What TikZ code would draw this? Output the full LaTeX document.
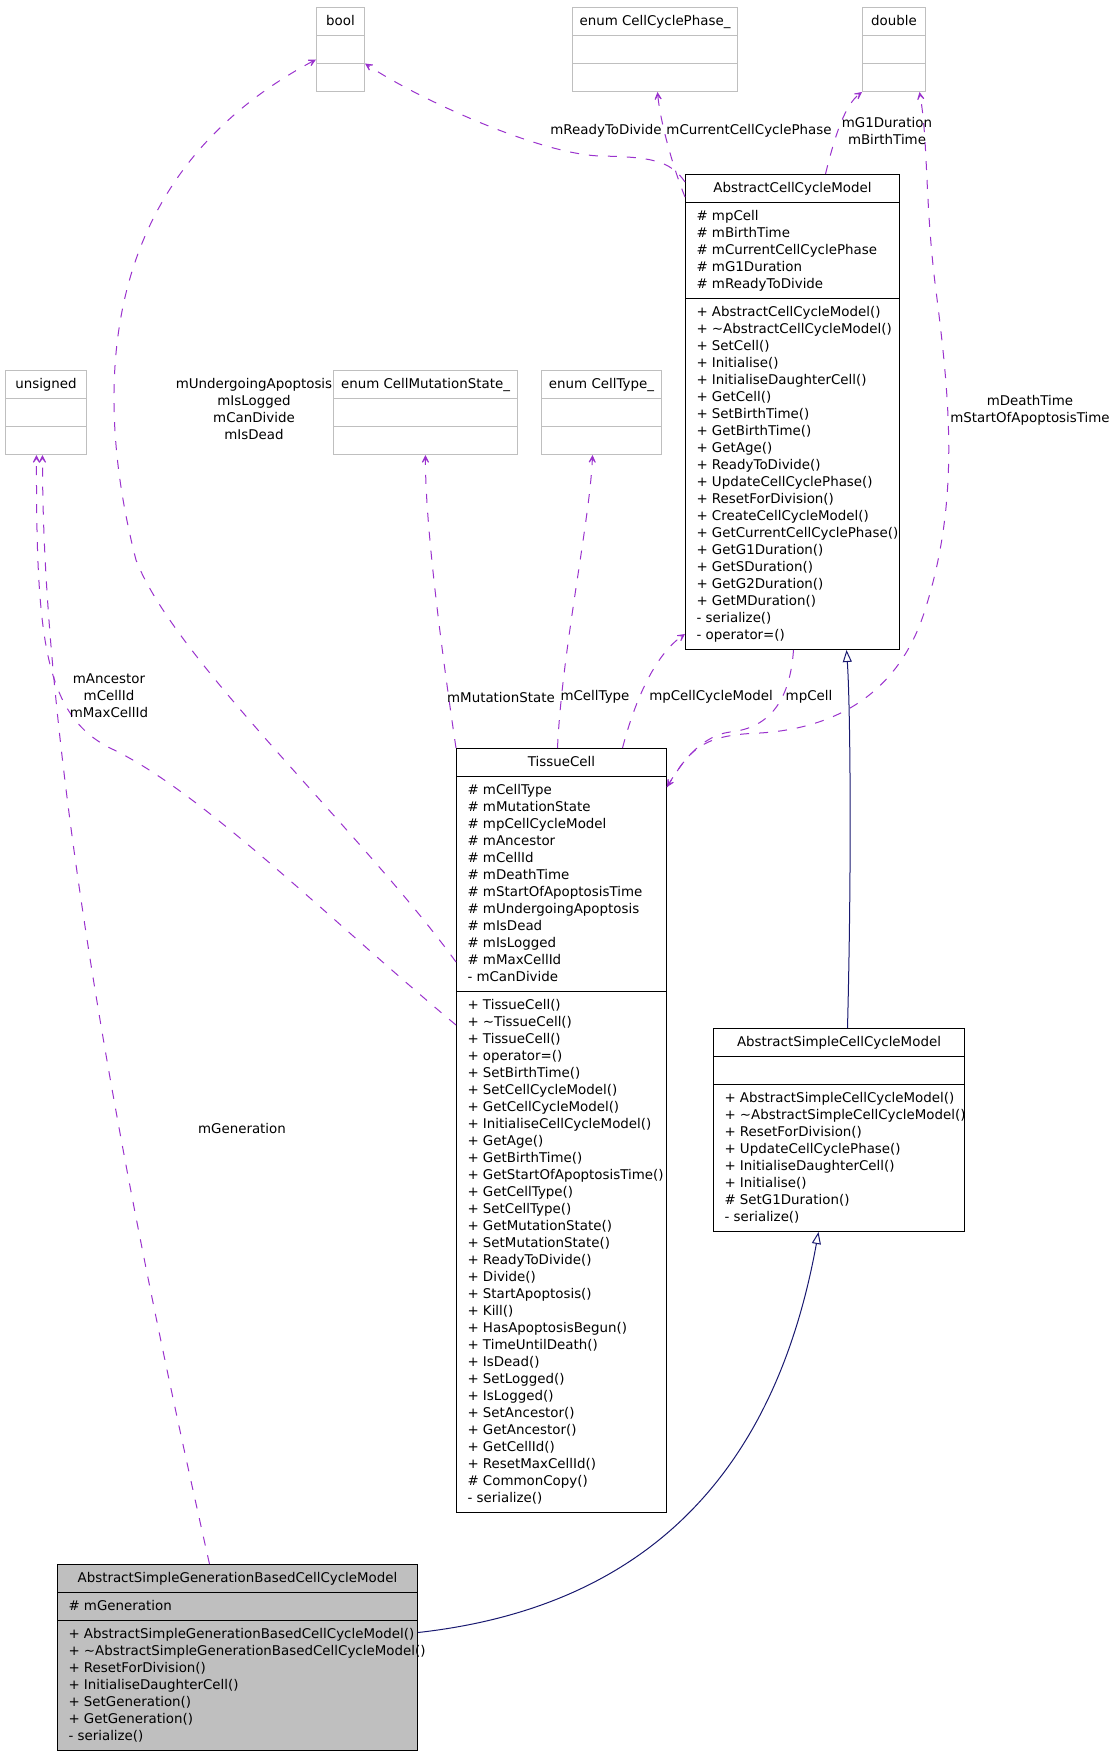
\documentclass[tikz,border=0pt]{standalone}
\usepackage{fontspec}
\setmainfont{DejaVu Sans}
\usetikzlibrary{shapes.multipart,arrows.meta}

\definecolor{usagepurple}{HTML}{9A32CD}
\definecolor{inheritnavy}{HTML}{191970}
\definecolor{typegray}{HTML}{BFBFBF}

% rows of a class box
\newcommand{\ctitle}[2]{\makebox[#1][c]{\rule[-9.5pt]{0pt}{27pt}#2}}
\newcommand{\cempty}[1]{\makebox[#1]{\rule[-9.5pt]{0pt}{27pt}}}
\newcommand{\clines}[2]{\makebox[#1][l]{\hspace{11pt}\parbox[c]{420pt}{\raggedright\baselineskip=17pt\rule{0pt}{17.5pt}#2\rule[-9.5pt]{0pt}{9.5pt}}}}

\tikzset{
  umlclass/.style={draw=black, rectangle split, rectangle split parts=3, inner sep=0pt, anchor=north west, line width=1pt},
  typebox/.style={umlclass, draw=typegray},
  usage/.style={draw=usagepurple, line width=1pt, dash pattern=on 9pt off 10pt, -{Stealth[length=12pt,width=12pt,inset=8pt]}},
  inherit/.style={draw=inheritnavy, line width=1pt, -{Triangle[open,length=12pt,width=9pt]}},
  lbl/.style={inner sep=0pt, align=center},
}

\begin{document}
\begin{tikzpicture}[x=1pt, y=-1pt, font=\fontsize{13.4}{17}\selectfont]
  \useasboundingbox (0,0) rectangle (1109,1755);

  % types
  \node[typebox] (bool) at (316,7) {\ctitle{48pt}{bool}\nodepart{second}\cempty{48pt}\nodepart{third}\cempty{48pt}};
  \node[typebox] (ccp) at (572,7) {\ctitle{165pt}{enum CellCyclePhase\_}\nodepart{second}\cempty{165pt}\nodepart{third}\cempty{165pt}};
  \node[typebox] (dbl) at (862,7) {\ctitle{63pt}{double}\nodepart{second}\cempty{63pt}\nodepart{third}\cempty{63pt}};
  \node[typebox] (unsigned) at (5,370) {\ctitle{81pt}{unsigned}\nodepart{second}\cempty{81pt}\nodepart{third}\cempty{81pt}};
  \node[typebox] (cms) at (333,370) {\ctitle{184pt}{enum CellMutationState\_}\nodepart{second}\cempty{184pt}\nodepart{third}\cempty{184pt}};
  \node[typebox] (ct) at (541,370) {\ctitle{120pt}{enum CellType\_}\nodepart{second}\cempty{120pt}\nodepart{third}\cempty{120pt}};

  % classes
  \node[umlclass] (accm) at (685,174) {\ctitle{214pt}{AbstractCellCycleModel}
    \nodepart{second}\clines{214pt}{\# mpCell\\\# mBirthTime\\\# mCurrentCellCyclePhase\\\# mG1Duration\\\# mReadyToDivide}
    \nodepart{third}\clines{214pt}{+ AbstractCellCycleModel()\\+ \textasciitilde AbstractCellCycleModel()\\+ SetCell()\\+ Initialise()\\+ InitialiseDaughterCell()\\+ GetCell()\\+ SetBirthTime()\\+ GetBirthTime()\\+ GetAge()\\+ ReadyToDivide()\\+ UpdateCellCyclePhase()\\+ ResetForDivision()\\+ CreateCellCycleModel()\\+ GetCurrentCellCyclePhase()\\+ GetG1Duration()\\+ GetSDuration()\\+ GetG2Duration()\\+ GetMDuration()\\- serialize()\\- operator=()}};

  \node[umlclass] (tc) at (456,748) {\ctitle{210pt}{TissueCell}
    \nodepart{second}\clines{210pt}{\# mCellType\\\# mMutationState\\\# mpCellCycleModel\\\# mAncestor\\\# mCellId\\\# mDeathTime\\\# mStartOfApoptosisTime\\\# mUndergoingApoptosis\\\# mIsDead\\\# mIsLogged\\\# mMaxCellId\\- mCanDivide}
    \nodepart{third}\clines{210pt}{+ TissueCell()\\+ \textasciitilde TissueCell()\\+ TissueCell()\\+ operator=()\\+ SetBirthTime()\\+ SetCellCycleModel()\\+ GetCellCycleModel()\\+ InitialiseCellCycleModel()\\+ GetAge()\\+ GetBirthTime()\\+ GetStartOfApoptosisTime()\\+ GetCellType()\\+ SetCellType()\\+ GetMutationState()\\+ SetMutationState()\\+ ReadyToDivide()\\+ Divide()\\+ StartApoptosis()\\+ Kill()\\+ HasApoptosisBegun()\\+ TimeUntilDeath()\\+ IsDead()\\+ SetLogged()\\+ IsLogged()\\+ SetAncestor()\\+ GetAncestor()\\+ GetCellId()\\+ ResetMaxCellId()\\\# CommonCopy()\\- serialize()}};

  \node[umlclass] (ascm) at (713,1028) {\ctitle{251pt}{AbstractSimpleCellCycleModel}
    \nodepart{second}\cempty{251pt}
    \nodepart{third}\clines{251pt}{+ AbstractSimpleCellCycleModel()\\+ \textasciitilde AbstractSimpleCellCycleModel()\\+ ResetForDivision()\\+ UpdateCellCyclePhase()\\+ InitialiseDaughterCell()\\+ Initialise()\\\# SetG1Duration()\\- serialize()}};

  \node[umlclass, fill=typegray] (asg) at (57,1564) {\ctitle{360pt}{AbstractSimpleGenerationBasedCellCycleModel}
    \nodepart{second}\clines{360pt}{\# mGeneration}
    \nodepart{third}\clines{360pt}{+ AbstractSimpleGenerationBasedCellCycleModel()\\+ \textasciitilde AbstractSimpleGenerationBasedCellCycleModel()\\+ ResetForDivision()\\+ InitialiseDaughterCell()\\+ SetGeneration()\\+ GetGeneration()\\- serialize()}};

  % usage edges
  \draw[usage] ([yshift=-214pt]tc.north west) .. controls (360,830) and (175,660) .. (136,560) .. controls (95,400) and (90,180) .. ([yshift=-10pt]bool.west);
  \draw[usage] ([yshift=-277pt]tc.north west) .. controls (330,920) and (200,790) .. (110,748) .. controls (45,715) and (36,640) .. ([xshift=-9.5pt]unsigned.south);
  \draw[usage] ([xshift=-28pt]asg.north) .. controls (150,1300) and (42,800) .. ([xshift=-3.5pt]unsigned.south);
  \draw[usage] (tc.north west) .. controls (440,640) and (425,520) .. (cms.south);
  \draw[usage] ([xshift=-4pt]tc.north) .. controls (562,650) and (590,520) .. ([xshift=-9pt]ct.south);
  \draw[usage] ([xshift=61pt]tc.north) .. controls (635,700) and (655,655) .. ([yshift=16pt]accm.south west);
  \draw[usage] ([xshift=1pt]accm.south) .. controls (790,700) and (770,728) .. (730,732) .. controls (700,736) and (680,765) .. ([yshift=-39pt]tc.north east);
  \draw[usage] ([yshift=-39pt]tc.north east) .. controls (690,750) and (700,735) .. (760,733) .. controls (840,728) and (900,690) .. (925,610) .. controls (960,500) and (950,400) .. (935,283) .. controls (925,200) and (928,140) .. ([xshift=25.5pt]dbl.south);
  \draw[usage] ([xshift=33pt]accm.north) .. controls (835,135) and (845,105) .. (dbl.south west);
  \draw[usage] ([yshift=-8pt]accm.north west) .. controls (670,160) and (650,157) .. (600,156) .. controls (540,154) and (420,100) .. ([yshift=-14pt]bool.east);
  \draw[usage] ([yshift=-23pt]accm.north west) .. controls (672,165) and (660,120) .. ([xshift=2.5pt]ccp.south);

  % inheritance
  \draw[inherit] ([xshift=8.5pt]ascm.north) .. controls (852,850) and (850,700) .. ([xshift=54pt]accm.south);
  \draw[inherit] ([yshift=25pt]asg.east) .. controls (620,1610) and (770,1500) .. ([xshift=-20.5pt]ascm.south);

  % edge labels
  \node[lbl] (lapop) at (254,409.5) {mUndergoingApoptosis\\mIsLogged\\mCanDivide\\mIsDead};
  \node[lbl] (lready) at (606,131) {mReadyToDivide};
  \node[lbl] (lphase) at (749,131) {mCurrentCellCyclePhase};
  \node[lbl] (ldur) at (887,131) {mG1Duration\\mBirthTime};
  \node[lbl] (ldeath) at (1030,410) {mDeathTime\\mStartOfApoptosisTime};
  \node[lbl] (lanc) at (109,696) {mAncestor\\mCellId\\mMaxCellId};
  \node[lbl] (lmut) at (501,697) {mMutationState};
  \node[lbl] (ltype) at (595,697) {mCellType};
  \node[lbl] (lmodel) at (711,697) {mpCellCycleModel};
  \node[lbl] (lcell) at (809,697) {mpCell};
  \node[lbl] (lgen) at (242,1128) {mGeneration};
\end{tikzpicture}
\end{document}
